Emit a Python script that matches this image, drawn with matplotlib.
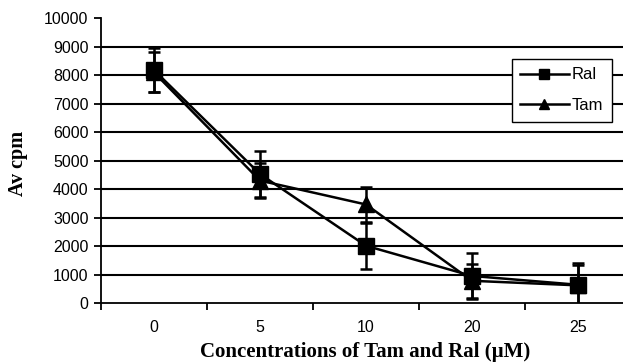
import matplotlib
matplotlib.use("Agg")
import matplotlib.pyplot as plt
from matplotlib.lines import Line2D
import numpy as np

categories = ["0", "5", "10", "20", "25"]
ral = [8180, 4530, 2010, 950, 640]
ral_err = [780, 820, 800, 800, 780]
tam = [8100, 4300, 3460, 780, 620]
tam_err = [700, 620, 620, 600, 700]

fig = plt.figure(figsize=(6.23, 3.64), dpi=100)
W, H = 623, 364
left, right, top, bottom = 101, 631, 18.3, 303
ax = fig.add_axes([left / W, 1 - bottom / H, (right - left) / W, (bottom - top) / H])

x = np.arange(len(categories))
ax.errorbar(x, ral, yerr=ral_err, color="black", lw=1.8, marker="s", ms=12,
            capsize=4.5, elinewidth=1.8, capthick=1.8, zorder=3)
ax.errorbar(x, tam, yerr=tam_err, color="black", lw=1.8, marker="^", ms=11,
            capsize=4.5, elinewidth=1.8, capthick=1.8, zorder=3)

ax.set_xlim(-0.5, len(categories) - 0.5)
ax.set_ylim(0, 10000)
ax.set_yticks(np.arange(0, 10001, 1000))
for yv in range(1000, 10000, 1000):
    ax.axhline(yv, color="black", lw=1.5, zorder=1)

ax.set_xticks(x)
ax.set_xticklabels(categories, family="Liberation Sans", fontsize=11.5)
ax.set_xticks(np.arange(-0.5, len(categories) + 0.5, 1), minor=True)
ax.tick_params(axis="x", which="major", length=0, pad=12)
ax.tick_params(axis="x", which="minor", length=5, width=1.3, direction="out")
ax.tick_params(axis="y", length=5, width=1.3, direction="out", pad=4)
for lab in ax.get_yticklabels():
    lab.set_family("Liberation Sans")
    lab.set_fontsize(11.5)

for s in ["top", "right"]:
    ax.spines[s].set_visible(False)
for s in ["left", "bottom"]:
    ax.spines[s].set_linewidth(1.3)

ax.set_xlabel("Concentrations of Tam and Ral (\u00b5M)", family="Liberation Serif",
              fontweight="bold", fontsize=15)
ax.xaxis.set_label_coords((365 - left) / (right - left), -(342 - bottom) / (bottom - top))
ax.set_ylabel("Av cpm", family="Liberation Serif", fontweight="bold", fontsize=14.5)
ax.yaxis.set_label_coords(-(left - 28) / (right - left), 1 - (163 - top) / (bottom - top))

handles = [Line2D([], [], color="black", lw=1.8, marker="s", ms=7),
           Line2D([], [], color="black", lw=1.8, marker="^", ms=7)]
leg = ax.legend(handles, ["Ral", "Tam"], loc="upper left",
                bbox_to_anchor=((512 - left) / (right - left), 1 - (59 - top) / (bottom - top)),
                frameon=True, fancybox=False, framealpha=1, edgecolor="black",
                prop={"family": "Liberation Sans", "size": 12}, handlelength=2.9,
                borderpad=0.5, labelspacing=0.95, handletextpad=0.2,
                borderaxespad=0)
leg.get_frame().set_linewidth(1.0)

fig.savefig("out.png", dpi=100)
